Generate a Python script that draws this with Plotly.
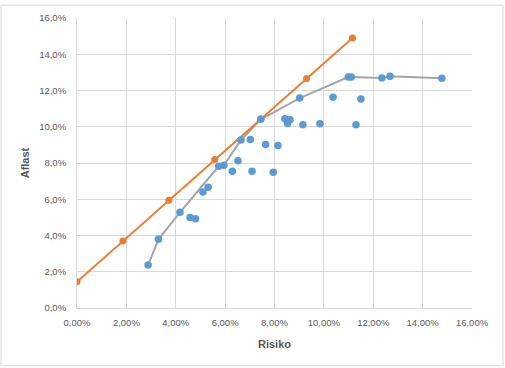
import plotly.graph_objects as go

# Efficient frontier (gray line) - risk %, return %
frontier_risk = [2.88, 3.30, 4.17, 5.74, 5.95, 6.64, 7.45, 9.02, 10.99, 11.11, 12.35, 12.68, 14.78]
frontier_ret = [2.37, 3.79, 5.28, 7.82, 7.87, 9.27, 10.41, 11.58, 12.74, 12.74, 12.69, 12.78, 12.67]

# Other portfolios (blue dots, not on the frontier)
other_risk = [4.58, 4.80, 5.10, 5.31, 6.29, 6.52, 7.09, 7.02, 7.64, 8.14, 7.95,
              8.42, 8.63, 8.53, 9.15, 9.84, 10.37, 11.50, 11.30]
other_ret = [4.99, 4.93, 6.40, 6.66, 7.55, 8.13, 7.55, 9.29, 9.02, 8.96, 7.49,
             10.44, 10.38, 10.18, 10.11, 10.16, 11.63, 11.53, 10.11]

# Capital market line (orange)
cml_risk = [0.00, 1.86, 3.72, 5.58, 7.44, 9.30, 11.16]
cml_ret = [1.45, 3.70, 5.95, 8.19, 10.43, 12.66, 14.90]

x_tickvals = [0, 2, 4, 6, 8, 10, 12, 14, 16]
x_ticktext = ["0,00%", "2,00%", "4,00%", "6,00%", "8,00%", "10,00%", "12,00%", "14,00%", "16,00%"]
y_tickvals = [0, 2, 4, 6, 8, 10, 12, 14, 16]
y_ticktext = ["0,0%", "2,0%", "4,0%", "6,0%", "8,0%", "10,0%", "12,0%", "14,0%", "16,0%"]

BLUE = "#5B9BD5"
ORANGE = "#ED7D31"
GRAY = "#A5A5A5"
TXT = "#595959"
GRID = "#D9D9D9"
FONT = "Liberation Sans, Arial, sans-serif"

fig = go.Figure()
fig.add_trace(go.Scatter(x=frontier_risk, y=frontier_ret, mode="lines",
                         line=dict(color=GRAY, width=2), showlegend=False, hoverinfo="skip"))
fig.add_trace(go.Scatter(x=cml_risk, y=cml_ret, mode="lines+markers",
                         line=dict(color=ORANGE, width=2),
                         marker=dict(color=ORANGE, size=7), showlegend=False))
fig.add_trace(go.Scatter(x=frontier_risk + other_risk, y=frontier_ret + other_ret, mode="markers",
                         marker=dict(color=BLUE, size=7.5), showlegend=False))

fig.update_xaxes(range=[0, 16], tickvals=x_tickvals, ticktext=x_ticktext,
                 showgrid=True, gridcolor=GRID, gridwidth=1, zeroline=False,
                 showline=True, linecolor=GRID, linewidth=1,
                 ticks="outside", ticklen=6, tickcolor="rgba(0,0,0,0)",
                 tickfont=dict(family=FONT, size=9.5, color=TXT),
                 title=dict(text="<b>Risiko</b>", font=dict(family=FONT, size=11, color=TXT), standoff=12))
fig.update_yaxes(range=[0, 16], tickvals=y_tickvals, ticktext=y_ticktext,
                 showgrid=True, gridcolor=GRID, gridwidth=1, zeroline=False,
                 showline=True, linecolor=GRID, linewidth=1,
                 ticks="outside", ticklen=8, tickcolor="rgba(0,0,0,0)",
                 tickfont=dict(family=FONT, size=9.5, color=TXT),
                 title=dict(text="<b>Aflast</b>", font=dict(family=FONT, size=11, color=TXT), standoff=7))

W, H = 505, 368
L, R, T, B = 77, 33, 14, 60
pw, ph = W - L - R, H - T - B
fig.add_shape(type="rect", xref="paper", yref="paper",
              x0=(1 - L) / pw, x1=(503 - L) / pw,
              y0=(H - B - 366.5) / ph, y1=(H - B - 1) / ph,
              line=dict(color=GRID, width=1), fillcolor="rgba(0,0,0,0)", layer="below")

fig.update_layout(width=W, height=H, margin=dict(l=L, r=R, t=T, b=B),
                  paper_bgcolor="white", plot_bgcolor="white",
                  font=dict(family=FONT, color=TXT), hovermode=False)
fig.write_html("out.html", config={"displayModeBar": False},
               post_script="document.body.style.margin='0';document.body.style.padding='0';document.body.style.overflow='hidden';")
